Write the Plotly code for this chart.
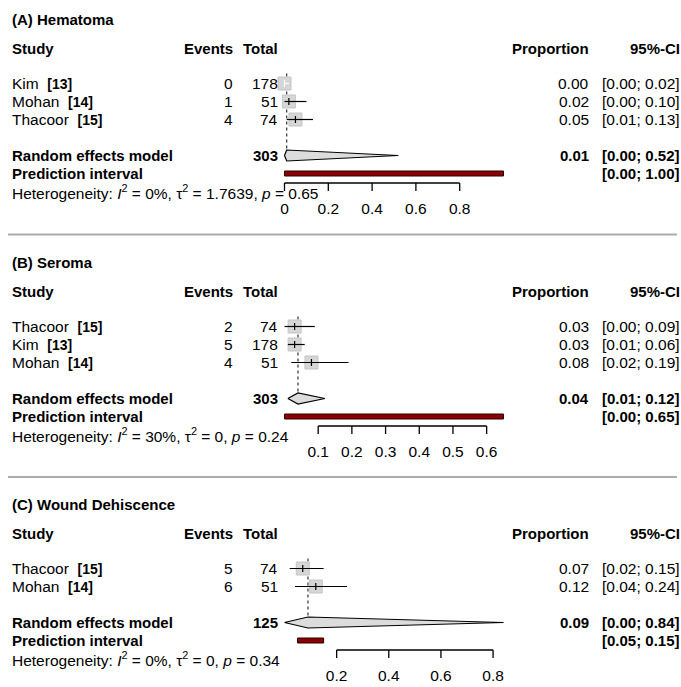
import plotly.graph_objects as go

W, H = 681, 687
FONT = "Liberation Sans, Arial, sans-serif"

# ---- (A) Hematoma ----
a_title = "(A) Hematoma"
a_study = ["Kim", "Mohan", "Thacoor"]
a_ref = ["[13]", "[14]", "[15]"]
a_events = [0, 1, 4]
a_total = [178, 51, 74]
a_prop = [0.00, 0.02, 0.05]
a_lo = [0.00, 0.00, 0.01]
a_hi = [0.02, 0.10, 0.13]
a_re = [0.01, 0.00, 0.52]      # estimate, lower, upper
a_pi = [0.00, 1.00]
a_n = 303
a_het = ["0%", "1.7639", "0.65"]
a_xmax = 1.00
a_ticks = [0, 0.2, 0.4, 0.6, 0.8]
a_ticklabels = ["0", "0.2", "0.4", "0.6", "0.8"]

# ---- (B) Seroma ----
b_title = "(B) Seroma"
b_study = ["Thacoor", "Kim", "Mohan"]
b_ref = ["[15]", "[13]", "[14]"]
b_events = [2, 5, 4]
b_total = [74, 178, 51]
b_prop = [0.03, 0.03, 0.08]
b_lo = [0.00, 0.01, 0.02]
b_hi = [0.09, 0.06, 0.19]
b_re = [0.04, 0.01, 0.12]
b_pi = [0.00, 0.65]
b_n = 303
b_het = ["30%", "0", "0.24"]
b_xmax = 0.65
b_ticks = [0.1, 0.2, 0.3, 0.4, 0.5, 0.6]
b_ticklabels = ["0.1", "0.2", "0.3", "0.4", "0.5", "0.6"]

# ---- (C) Wound Dehiscence ----
c_title = "(C) Wound Dehiscence"
c_study = ["Thacoor", "Mohan"]
c_ref = ["[15]", "[14]"]
c_events = [5, 6]
c_total = [74, 51]
c_prop = [0.07, 0.12]
c_lo = [0.02, 0.04]
c_hi = [0.15, 0.24]
c_re = [0.09, 0.00, 0.84]
c_pi = [0.05, 0.15]
c_n = 125
c_het = ["0%", "0", "0.34"]
c_xmax = 0.84
c_ticks = [0.2, 0.4, 0.6, 0.8]
c_ticklabels = ["0.2", "0.4", "0.6", "0.8"]

panels = [
    dict(title=a_title, study=a_study, ref=a_ref, events=a_events, total=a_total,
         prop=a_prop, lo=a_lo, hi=a_hi, re=a_re, pi=a_pi, n=a_n, het=a_het,
         xmax=a_xmax, ticks=a_ticks, ticklabels=a_ticklabels, top=0),
    dict(title=b_title, study=b_study, ref=b_ref, events=b_events, total=b_total,
         prop=b_prop, lo=b_lo, hi=b_hi, re=b_re, pi=b_pi, n=b_n, het=b_het,
         xmax=b_xmax, ticks=b_ticks, ticklabels=b_ticklabels, top=243),
    dict(title=c_title, study=c_study, ref=c_ref, events=c_events, total=c_total,
         prop=c_prop, lo=c_lo, hi=c_hi, re=c_re, pi=c_pi, n=c_n, het=c_het,
         xmax=c_xmax, ticks=c_ticks, ticklabels=c_ticklabels, top=485),
]

# Layout geometry (pixels)
FOREST_X0, FOREST_X1 = 284.5, 503.5
COL_STUDY, COL_EVENTS, COL_TOTAL, COL_PROP, COL_CI = 11, 234, 279, 590, 681
ROW_STEP = 18
SQ = 13
SEP_Y = [234.5, 477]
REG = 15.5   # regular text size
BLD = 15     # bold text size

fig = go.Figure()
annotations = []
shapes = []


def ann(x, y, text, anchor="left", bold=False):
    annotations.append(dict(
        x=x / W, xref="paper", y=y, yref="y", text=f"<b>{text}</b>" if bold else text,
        showarrow=False, xanchor=anchor, yanchor="middle",
        font=dict(family=FONT, size=BLD if bold else REG, color="black"), borderpad=0))


for k, p in enumerate(panels):
    xa = "x" if k == 0 else f"x{k + 1}"
    top = p["top"]
    y_title = top + 19
    y_head = top + 48
    y_rows = [top + 83.5 + i * ROW_STEP for i in range(len(p["study"]))]
    y_re = y_rows[-1] + 36
    y_pi = y_re + ROW_STEP
    y_het = y_pi + ROW_STEP
    y_axis = y_pi + 9.5
    y_tlab = y_axis + 27

    # x scale: data units per pixel
    s = p["xmax"] / (FOREST_X1 - FOREST_X0)
    axname = "xaxis" if k == 0 else f"xaxis{k + 1}"
    fig.layout[axname] = dict(
        domain=[0, 1], range=[-FOREST_X0 * s, p["xmax"] + (W - FOREST_X1) * s],
        visible=False, fixedrange=True,
        **({} if k == 0 else dict(overlaying="x", anchor="y")))

    # text columns
    ann(COL_STUDY, y_title, p["title"], bold=True)
    ann(COL_STUDY, y_head, "Study", bold=True)
    ann(COL_EVENTS, y_head, "Events", "right", bold=True)
    ann(COL_TOTAL, y_head, "Total", "right", bold=True)
    ann(COL_PROP, y_head, "Proportion", "right", bold=True)
    ann(COL_CI, y_head, "95%-CI", "right", bold=True)
    for i, y in enumerate(y_rows):
        ann(COL_STUDY, y, f"{p['study'][i]}  <b><span style='font-size:14px'>{p['ref'][i]}</span></b>")
        ann(COL_EVENTS, y, str(p["events"][i]), "right")
        ann(COL_TOTAL, y, str(p["total"][i]), "right")
        ann(COL_PROP, y, f"{p['prop'][i]:.2f}", "right")
        ann(COL_CI, y, f"[{p['lo'][i]:.2f}; {p['hi'][i]:.2f}]", "right")
    ann(COL_STUDY, y_re, "Random effects model", bold=True)
    ann(COL_TOTAL, y_re, str(p["n"]), "right", bold=True)
    ann(COL_PROP, y_re, f"{p['re'][0]:.2f}", "right", bold=True)
    ann(COL_CI, y_re, f"[{p['re'][1]:.2f}; {p['re'][2]:.2f}]", "right", bold=True)
    ann(COL_STUDY, y_pi, "Prediction interval", bold=True)
    ann(COL_CI, y_pi, f"[{p['pi'][0]:.2f}; {p['pi'][1]:.2f}]", "right", bold=True)
    i2, tau2, pval = p["het"]
    ann(COL_STUDY, y_het,
        f"Heterogeneity: <i>I</i><sup>2</sup> = {i2}, τ<sup>2</sup> = {tau2}, <i>p</i> = {pval}")

    # dotted line at the pooled estimate
    fig.add_trace(go.Scatter(
        x=[p["re"][0], p["re"][0]], y=[y_rows[0] - 10, y_re - 5], xaxis=xa, mode="lines",
        line=dict(color="#333333", width=1.2, dash="dot"), hoverinfo="skip", cliponaxis=False))

    # study squares
    fig.add_trace(go.Scatter(
        x=p["prop"], y=y_rows, xaxis=xa, mode="markers", cliponaxis=False,
        marker=dict(symbol="square", size=SQ, color="#d6d6d6",
                    line=dict(color="#c4c4c4", width=1)), hoverinfo="skip"))

    # confidence intervals (white when the whole interval sits inside the square)
    for i, y in enumerate(y_rows):
        inside = (p["hi"][i] - p["lo"][i]) / s < SQ - 2
        col = "white" if inside else "black"
        fig.add_trace(go.Scatter(
            x=[p["lo"][i], p["hi"][i]], y=[y, y], xaxis=xa, mode="lines",
            line=dict(color=col, width=1.2), hoverinfo="skip", cliponaxis=False))
        fig.add_trace(go.Scatter(
            x=[p["prop"][i]], y=[y], xaxis=xa, mode="markers", cliponaxis=False,
            marker=dict(symbol="line-ns", size=5, line=dict(color=col, width=1.2)),
            hoverinfo="skip"))

    # pooled diamond
    est, lo, hi = p["re"]
    fig.add_trace(go.Scatter(
        x=[lo, est, hi, est, lo], y=[y_re, y_re - 5.5, y_re, y_re + 5.5, y_re], xaxis=xa,
        mode="lines", fill="toself", fillcolor="#dcdcdc",
        line=dict(color="black", width=1.2), hoverinfo="skip", cliponaxis=False))

    # prediction interval bar
    shapes.append(dict(type="rect", xref=xa, yref="y", x0=p["pi"][0], x1=p["pi"][1],
                       y0=y_pi - 2.5, y1=y_pi + 2.5, fillcolor="#8b0000",
                       line=dict(color="#2a0000", width=1)))

    # x axis: line, ticks and labels
    tx, ty = [p["ticks"][0], p["ticks"][-1]], [y_axis, y_axis]
    for t in p["ticks"]:
        tx += [None, t, t]
        ty += [None, y_axis, y_axis + 8]
    fig.add_trace(go.Scatter(x=tx, y=ty, xaxis=xa, mode="lines", cliponaxis=False,
                             line=dict(color="black", width=1.3), hoverinfo="skip"))
    fig.add_trace(go.Scatter(
        x=p["ticks"], y=[y_tlab] * len(p["ticks"]), xaxis=xa, mode="text",
        text=p["ticklabels"], textposition="middle center", cliponaxis=False,
        textfont=dict(family=FONT, size=REG, color="black"), hoverinfo="skip"))

for y in SEP_Y:
    shapes.append(dict(type="line", xref="paper", yref="y", x0=8 / W, x1=677 / W,
                       y0=y, y1=y, line=dict(color="#ababab", width=2)))

fig.update_layout(
    width=W, height=H, margin=dict(l=0, r=0, t=0, b=0),
    paper_bgcolor="white", plot_bgcolor="white", showlegend=False,
    yaxis=dict(domain=[0, 1], range=[H, 0], visible=False, fixedrange=True),
    annotations=annotations, shapes=shapes,
    font=dict(family=FONT, size=REG, color="black"),
)

fig.write_html("out.html", config={"displayModeBar": False})
